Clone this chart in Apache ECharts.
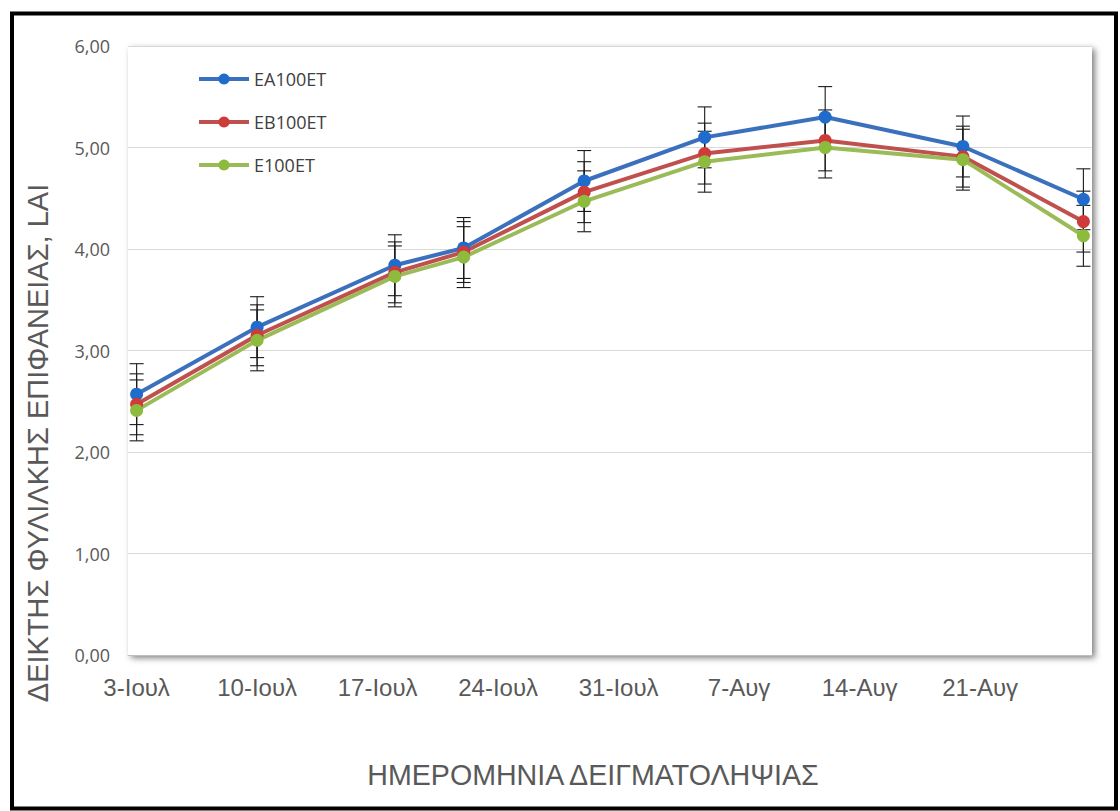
<!DOCTYPE html>
<html>
<head>
<meta charset="utf-8">
<title>ΔΕΙΚΤΗΣ ΦΥΛΙΛΚΗΣ ΕΠΙΦΑΝΕΙΑΣ, LAI</title>
<script src="https://cdn.jsdelivr.net/npm/echarts@6/dist/echarts.min.js"></script>
<style>
  html, body { margin: 0; padding: 0; background: #fff; }
  #chart { width: 1120px; height: 811px; }
</style>
</head>
<body>
<div id="chart"></div>
<script>
// Sampling dates (month-day) of the season
const seasonYear = 2019;
const sampleDates = ['07-03', '07-10', '07-18', '07-22', '07-29', '08-05', '08-12', '08-20', '08-27'];

// Weekly date labels on the horizontal axis
const tickDates = ['07-03', '07-10', '07-17', '07-24', '07-31', '08-07', '08-14', '08-21'];
const tickLabels = ['3-Ιουλ', '10-Ιουλ', '17-Ιουλ', '24-Ιουλ', '31-Ιουλ', '7-Αυγ', '14-Αυγ', '21-Αυγ'];
const axisFirstDay = '07-03';
const axisEndDay = '08-28';

// Vertical axis
const yTickLabels = ['0,00', '1,00', '2,00', '3,00', '4,00', '5,00', '6,00'];

// Leaf area index per treatment
const seriesNames = ['EA100ET', 'EB100ET', 'E100ET'];
const laiEA = [2.57, 3.23, 3.84, 4.01, 4.67, 5.10, 5.30, 5.01, 4.49];
const laiEB = [2.47, 3.15, 3.77, 3.97, 4.56, 4.94, 5.07, 4.91, 4.27];
const laiE  = [2.41, 3.10, 3.73, 3.92, 4.47, 4.86, 5.00, 4.88, 4.13];

// Error bar half-lengths
const errEA = [0.30, 0.30, 0.30, 0.30, 0.30, 0.30, 0.30, 0.30, 0.30];
const errEB = [0.30, 0.30, 0.30, 0.30, 0.30, 0.30, 0.30, 0.30, 0.30];
const errE  = [0.30, 0.30, 0.30, 0.30, 0.30, 0.30, 0.30, 0.30, 0.30];

const DAY = 24 * 3600 * 1000;
function dayStart(md) {
  const [m, d] = md.split('-').map(Number);
  return Date.UTC(seasonYear, m - 1, d);
}
// horizontal position in days from the first day of the axis;
// every date owns a one-day slot and is placed in the slot's middle
function dayOffset(md) { return (dayStart(md) - dayStart(axisFirstDay)) / DAY; }
function dayCentre(md) { return dayOffset(md) + 0.5; }

const tickValues = tickDates.map(dayCentre);

function lineSeries(name, values, lineColor, dotColor) {
  return {
    type: 'line',
    name: name,
    data: sampleDates.map((md, i) => [dayCentre(md), values[i]]),
    symbol: 'circle',
    symbolSize: 13,
    lineStyle: { color: lineColor, width: 4 },
    itemStyle: { color: dotColor },
    emphasis: { disabled: true },
    z: 3
  };
}

function errorBars(name, values, errors) {
  return {
    type: 'custom',
    name: name + ' ±',
    silent: true,
    z: 2,
    data: sampleDates.map((md, i) => [dayCentre(md), values[i], errors[i]]),
    encode: { x: 0, y: 1 },
    renderItem: function (params, api) {
      const x = api.value(0), y = api.value(1), e = api.value(2);
      const top = api.coord([x, y + e]);
      const bot = api.coord([x, y - e]);
      const hw = 7;
      const style = { stroke: '#1a1a1a', lineWidth: 1.1 };
      return {
        type: 'group',
        children: [
          { type: 'line', shape: { x1: top[0], y1: top[1], x2: bot[0], y2: bot[1] }, style: style },
          { type: 'line', shape: { x1: top[0] - hw, y1: top[1], x2: top[0] + hw, y2: top[1] }, style: style },
          { type: 'line', shape: { x1: bot[0] - hw, y1: bot[1], x2: bot[0] + hw, y2: bot[1] }, style: style }
        ]
      };
    }
  };
}

const chart = echarts.init(document.getElementById('chart'), null, { renderer: 'svg' });

chart.setOption({
  backgroundColor: '#ffffff',
  animation: false,
  grid: {
    left: 128, right: 28, top: 46, bottom: 156,
    show: true,
    backgroundColor: '#ffffff',
    borderWidth: 0,
    shadowColor: 'rgba(0,0,0,0.5)',
    shadowBlur: 6,
    shadowOffsetX: 3,
    shadowOffsetY: 3,
    outerBoundsMode: 'none'
  },
  legend: {
    data: seriesNames,
    orient: 'vertical',
    left: 197,
    top: 70,
    padding: 0,
    itemWidth: 50,
    itemHeight: 14,
    itemGap: 25,
    lineStyle: { width: 4 },
    textStyle: { fontFamily: 'Open Sans', fontSize: 18, color: '#404040' }
  },
  xAxis: {
    type: 'value',
    min: dayOffset(axisFirstDay),
    max: dayOffset(axisEndDay),
    splitLine: { show: false },
    axisTick: { show: false },
    axisLine: { show: true, onZero: false, lineStyle: { color: '#bfbfbf', width: 1 } },
    axisLabel: {
      customValues: tickValues,
      formatter: function (v) { return tickLabels[tickValues.indexOf(v)]; },
      fontFamily: 'Liberation Sans',
      fontSize: 24,
      color: '#595959',
      margin: 20,
      hideOverlap: false
    }
  },
  yAxis: {
    type: 'value',
    min: 0,
    max: 6,
    interval: 1,
    axisLine: { show: false },
    axisTick: { show: false },
    splitLine: { lineStyle: { color: '#d9d9d9', width: 1 } },
    axisLabel: {
      formatter: function (v) { return yTickLabels[Math.round(v)]; },
      fontFamily: 'Open Sans',
      fontSize: 18,
      color: '#595959',
      margin: 18
    }
  },
  graphic: [
    {
      type: 'text',
      x: 38, y: 443,
      rotation: Math.PI / 2,
      style: {
        text: 'ΔΕΙΚΤΗΣ ΦΥΛΙΛΚΗΣ ΕΠΙΦΑΝΕΙΑΣ, LAI',
        fontFamily: 'Liberation Sans',
        fontSize: 29,
        fill: '#595959',
        align: 'center',
        verticalAlign: 'middle'
      }
    },
    {
      type: 'text',
      x: 593, y: 775,
      style: {
        text: 'ΗΜΕΡΟΜΗΝΙΑ ΔΕΙΓΜΑΤΟΛΗΨΙΑΣ',
        fontFamily: 'Liberation Sans',
        fontSize: 28.6,
        fill: '#595959',
        align: 'center',
        verticalAlign: 'middle'
      }
    },
    {
      type: 'rect',
      shape: { x: 12, y: 13.5, width: 1104, height: 795 },
      style: { fill: 'none', stroke: '#000000', lineWidth: 4 },
      z: 100
    }
  ],
  series: [
    errorBars(seriesNames[0], laiEA, errEA),
    errorBars(seriesNames[1], laiEB, errEB),
    errorBars(seriesNames[2], laiE, errE),
    lineSeries(seriesNames[0], laiEA, '#3b70bd', '#1f6ccc'),
    lineSeries(seriesNames[1], laiEB, '#c0504d', '#cf3b3b'),
    lineSeries(seriesNames[2], laiE, '#9bbb59', '#8cbb3e')
  ]
});
</script>
</body>
</html>
